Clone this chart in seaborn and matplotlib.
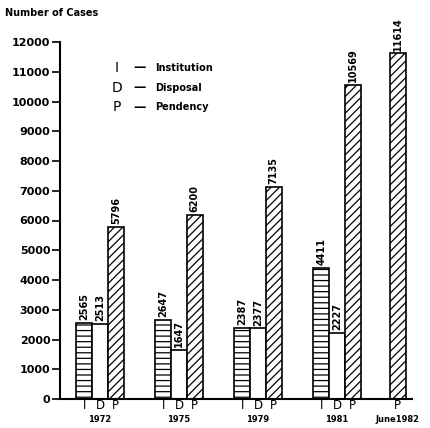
import matplotlib
matplotlib.use("Agg")
import matplotlib.pyplot as plt
import pandas as pd
import seaborn as sns

# values
years = ["1972", "1975", "1979", "1981"]
institution = [2565, 2647, 2387, 4411]
disposal = [2513, 1647, 2377, 2227]
pendency = [5796, 6200, 7135, 10569]
june82_label = "June1982"
june82_pendency = 11614

types = ["I", "D", "P"]
y_ticks = list(range(0, 12001, 1000))

# layout: group centres and in-group offsets
group_pos = [0, 1, 2, 3]
june82_pos = 3.77
offsets = {"I": -0.2, "D": 0.0, "P": 0.2}

rows = []
for g, yr in enumerate(years):
    for t, vals in zip(types, [institution, disposal, pendency]):
        rows.append({"pos": round(group_pos[g] + offsets[t], 3), "value": vals[g], "type": t})
rows.append({"pos": june82_pos, "value": june82_pendency, "type": "P"})
df = pd.DataFrame(rows)

sns.set_style("ticks")
plt.rcParams["font.family"] = ["DejaVu Sans"]
plt.rcParams["hatch.linewidth"] = 0.9
plt.rcParams["text.color"] = "black"
plt.rcParams["xtick.color"] = "black"
plt.rcParams["ytick.color"] = "black"
plt.rcParams["axes.edgecolor"] = "black"

fig = plt.figure(figsize=(4.30, 4.28), dpi=100)
ax = fig.add_axes([60 / 430, 29 / 428, 352 / 430, 357 / 428])

sns.barplot(data=df, x="pos", y="value", hue="type", hue_order=types,
            native_scale=True, dodge=False, width=1.0, errorbar=None,
            palette=["white", "white", "white"], edgecolor="black",
            linewidth=1.2, legend=False, ax=ax)

hatches = {"I": "---", "D": "", "P": "////"}
for cont, t in zip(ax.containers, types):
    for bar in cont:
        bar.set_hatch(hatches[t])
        bar.set_facecolor("white")
        bar.set_edgecolor("black")
    ax.bar_label(cont, fmt="%d", rotation=90, padding=2, fontsize=7, fontweight="bold",
                 color="black")

ax.set_xlim(-0.506, 3.95)
ax.set_ylim(0, 12000)
ax.set_yticks(y_ticks)
ax.set_yticklabels([str(v) for v in y_ticks], fontsize=8, fontweight="bold")
ax.tick_params(axis="y", length=6, width=1.2, pad=1)

xt = []
xl = []
for g in group_pos:
    for t in types:
        xt.append(g + offsets[t])
        xl.append(t)
xt.append(june82_pos)
xl.append("P")
ax.set_xticks(xt)
ax.set_xticklabels(xl, fontsize=8.5)
ax.tick_params(axis="x", length=0, pad=0)
ax.set_xlabel("")
ax.set_ylabel("")

for g, yr in zip(group_pos, years):
    ax.text(g, -0.058, yr, transform=ax.get_xaxis_transform(), ha="center", va="center",
            fontsize=6, fontweight="bold")
ax.text(june82_pos, -0.058, june82_label, transform=ax.get_xaxis_transform(), ha="center",
        va="center", fontsize=6, fontweight="bold")

sns.despine(ax=ax)
for s in ["left", "bottom"]:
    ax.spines[s].set_linewidth(1.5)

fig.text(5 / 430, 1 - 13 / 428, "Number of Cases", fontsize=7, fontweight="bold", va="center")

legend_rows = [("I", "Institution", 68), ("D", "Disposal", 88), ("P", "Pendency", 107)]
for letter, name, ypx in legend_rows:
    fig.text(117 / 430, 1 - ypx / 428, letter, fontsize=10, ha="center", va="center")
    fig.text(140 / 430, 1 - ypx / 428, "\u2014", fontsize=9, ha="center", va="center", fontweight="bold")
    fig.text(155 / 430, 1 - ypx / 428, name, fontsize=7, fontweight="bold", va="center")

fig.savefig("out.png", dpi=100)
